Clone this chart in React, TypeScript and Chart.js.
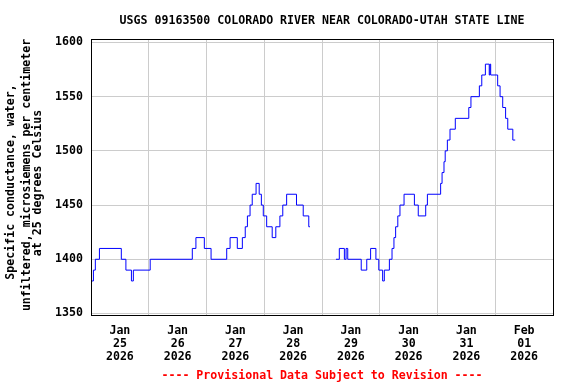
import React, { useEffect, useRef } from "react";
import { Chart, registerables } from "chart.js";

Chart.register(...registerables);

const TITLE = "USGS 09163500 COLORADO RIVER NEAR COLORADO-UTAH STATE LINE";
const Y_TITLE = [
  "Specific conductance, water,",
  "unfiltered, microsiemens per centimeter",
  "at 25 degrees Celsius",
];
const FOOTER = "---- Provisional Data Subject to Revision ----";

const DAY_MONTHS = ["Jan", "Jan", "Jan", "Jan", "Jan", "Jan", "Jan", "Feb"];
const DAY_NUMBERS = ["25", "26", "27", "28", "29", "30", "31", "01"];
const DAY_YEARS = ["2026", "2026", "2026", "2026", "2026", "2026", "2026", "2026"];
const Y_TICKS = [1350, 1400, 1450, 1500, 1550, 1600];

// hours since 2026-01-25 00:00 at which the reading changes (null = gap in record)
const HOURS = [
  0, 1.0, 1.8, 3.5, 12.6, 14.5, 16.8, 17.6, 24.6, 42.1, 43.6, 47.1, 49.9, 56.4,
  57.8, 60.8, 62.9, 64.1, 65.0, 66.1, 67.0, 68.6, 69.9, 70.8, 71.6, 73.0, 75.3,
  76.8, 78.5, 79.7, 81.3, 85.4, 88.2, 90.5, 91.0,
  96,
  101.8, 103.2, 105.3, 106.0, 106.7, 112.3, 114.6, 116.2, 118.4, 119.6, 121.2,
  121.9, 124.0, 125.1, 125.9, 126.6, 127.5, 128.4, 130.1, 134.4, 136.0, 139.1,
  139.8, 145.3, 145.9, 146.7, 147.2, 148.1, 149.2, 151.4, 157.0, 157.9, 161.4,
  162.4, 163.9, 165.5, 165.8, 166.1, 169.0, 170.0, 171.1, 172.3, 173.2, 175.3,
  176.3,
];
const VALUES = [
  1380, 1390, 1400, 1410, 1400, 1390, 1380, 1390, 1400, 1410, 1420, 1410, 1400,
  1410, 1420, 1410, 1420, 1430, 1440, 1450, 1460, 1470, 1460, 1450, 1440, 1430,
  1420, 1430, 1440, 1450, 1460, 1450, 1440, 1430, 1430,
  null,
  1400, 1410, 1400, 1410, 1400, 1390, 1400, 1410, 1400, 1390, 1380,
  1390, 1400, 1410, 1420, 1430, 1440, 1450, 1460, 1450, 1440, 1450,
  1460, 1470, 1480, 1490, 1500, 1510, 1520, 1530, 1540, 1550, 1560,
  1570, 1580, 1570, 1580, 1570, 1560, 1550, 1540, 1530, 1520, 1510,
  1510,
];

const FAMILY = "'DejaVu Sans Mono', monospace";
const FONT_SIZE = 11.6;
const CSS_FONT = `bold ${FONT_SIZE}px ${FAMILY}`;

const decorPlugin = {
  id: "decor",
  afterDraw(chart: any) {
    const { ctx, chartArea: a } = chart;
    ctx.save();
    ctx.strokeStyle = "#000000";
    ctx.lineWidth = 1;
    ctx.strokeRect(a.left + 0.5, a.top + 0.5, a.right - a.left, a.bottom - a.top);

    ctx.font = CSS_FONT;
    ctx.textAlign = "center";
    ctx.textBaseline = "middle";
    const cx = (a.left + a.right) / 2;
    ctx.fillStyle = "#000000";
    ctx.fillText(TITLE, cx, 21);

    ctx.fillStyle = "#ff0000";
    ctx.fillText(FOOTER, cx, 375.5);

    ctx.fillStyle = "#000000";
    const xs = [10.5, 27, 38];
    const ys = [182, 175, 183];
    Y_TITLE.forEach((line, i) => {
      ctx.save();
      ctx.translate(xs[i], ys[i]);
      ctx.rotate(-Math.PI / 2);
      ctx.fillText(line, 0, 0);
      ctx.restore();
    });
    ctx.restore();
  },
};

export default function App() {
  const canvasRef = useRef<HTMLCanvasElement | null>(null);

  useEffect(() => {
    document.body.style.margin = "0";
    const canvas = canvasRef.current;
    if (!canvas) return;

    const points = HOURS.map((h, i) => ({ x: h, y: VALUES[i] }));
    const tickFont = { family: FAMILY, size: FONT_SIZE, weight: "bold" as const, lineHeight: "13px" };

    const chart = new Chart(canvas, {
      type: "line",
      data: {
        datasets: [
          {
            data: points as any,
            borderColor: "#0000ff",
            borderWidth: 1,
            pointRadius: 0,
            stepped: true,
            spanGaps: false,
            fill: false,
          },
        ],
      },
      options: {
        animation: false,
        responsive: false,
        devicePixelRatio: 1,
        layout: { padding: { top: 39, right: 23, bottom: 19, left: 0 } },
        plugins: {
          legend: { display: false },
          title: { display: false },
          tooltip: { enabled: false },
        },
        scales: {
          x: {
            type: "linear",
            min: 0,
            max: DAY_NUMBERS.length * 24,
            afterBuildTicks: (s: any) => {
              const t: any[] = [];
              DAY_NUMBERS.forEach((_, i) => {
                t.push({ value: i * 24 });
                t.push({ value: i * 24 + 12 });
              });
              t.push({ value: DAY_NUMBERS.length * 24 });
              s.ticks = t;
            },
            afterFit: (s: any) => {
              s.height = 50;
            },
            grid: {
              color: (c: any) =>
                c.tick && c.tick.value % 24 === 0 ? "#cccccc" : "rgba(0,0,0,0)",
              lineWidth: 1,
              drawTicks: false,
            },
            border: { display: false },
            ticks: {
              autoSkip: false,
              maxRotation: 0,
              minRotation: 0,
              padding: 9,
              color: "#000000",
              font: tickFont,
              callback: (v: any) => {
                const n = Number(v);
                if (n % 24 !== 12) return "";
                const i = Math.floor(n / 24);
                return [DAY_MONTHS[i], DAY_NUMBERS[i], DAY_YEARS[i]];
              },
            },
          },
          y: {
            type: "linear",
            min: 1348.6,
            max: 1603.2,
            afterBuildTicks: (s: any) => {
              s.ticks = Y_TICKS.map((v) => ({ value: v }));
            },
            afterFit: (s: any) => {
              s.width = 91;
            },
            grid: { color: "#cccccc", lineWidth: 1, drawTicks: false },
            border: { display: false },
            ticks: {
              padding: 8,
              color: "#000000",
              font: tickFont,
              callback: (v: any) => String(v),
            },
          },
        },
      },
      plugins: [decorPlugin],
    });

    return () => chart.destroy();
  }, []);

  return (
    <div style={{ width: 576, height: 384, background: "#ffffff" }}>
      <canvas ref={canvasRef} width={576} height={384} style={{ display: "block", width: 576, height: 384 }} />
    </div>
  );
}
